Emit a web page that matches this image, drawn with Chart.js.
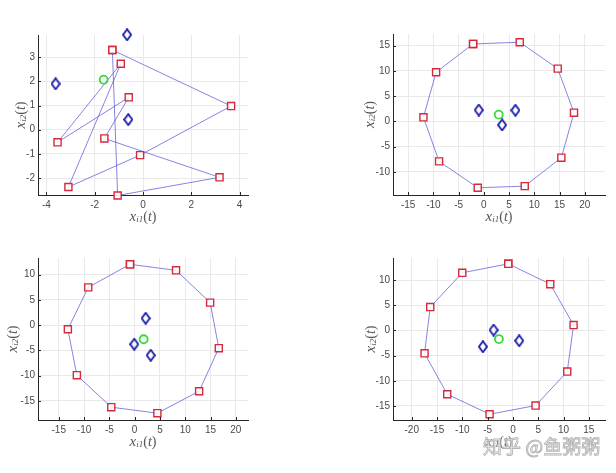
<!DOCTYPE html>
<html><head><meta charset="utf-8">
<script src="https://cdn.jsdelivr.net/npm/chart.js@4/dist/chart.umd.min.js"></script>
<style>
html,body{margin:0;padding:0;background:#fff;}
#wrap{position:relative;width:616px;height:473px;overflow:hidden;background:#fff;}
#wrap canvas{position:absolute;left:0;top:0;width:616px;height:473px;}
#wm{position:absolute;left:483px;top:434px;font-family:"Noto Sans CJK SC";font-size:19px;line-height:24px;color:rgba(255,255,255,0.6);-webkit-text-stroke:0.9px #b5b5b5;white-space:nowrap;}
</style></head><body>
<div id="wrap">
<canvas id="c1" width="616" height="473"></canvas>
<canvas id="c2" width="616" height="473"></canvas>
<canvas id="c3" width="616" height="473"></canvas>
<canvas id="c4" width="616" height="473"></canvas>
<div id="wm">知乎 @鱼粥粥</div>
</div>
<script>
// ---- data ----
// subplot 1 (initial state), agents listed in ring order
const agentX1 = [-1.27, 3.65, -0.12, -3.09, -0.92, -3.54, -0.59, -1.60, 3.17, -1.05];
const agentY1 = [3.30, 0.98, -1.05, -2.37, 2.73, -0.52, 1.34, -0.36, -1.97, -2.72];
const leaderX1 = [-0.66, -3.62, -0.61];
const leaderY1 = [3.93, 1.90, 0.42];
const centerX1 = [-1.63];
const centerY1 = [2.07];
const xTicks1 = [-4, -2, 0, 2, 4];
const yTicks1 = [-2, -1, 0, 1, 2, 3];

// subplot 2
const agentX2 = [-2.13, 7.11, 14.63, 17.86, 15.35, 8.10, -1.21, -8.87, -11.97, -9.46];
const agentY2 = [15.33, 15.67, 10.44, 1.71, -7.21, -12.84, -13.17, -7.94, 0.79, 9.72];
const leaderX2 = [-1.01, 6.25, 3.61];
const leaderY2 = [2.24, 2.18, -0.73];
const centerX2 = [2.95];
const centerY2 = [1.32];
const xTicks2 = [-15, -10, -5, 0, 5, 10, 15, 20];
const yTicks2 = [-10, -5, 0, 5, 10, 15];

// subplot 3
const agentX3 = [-0.92, 8.18, 14.92, 16.63, 12.74, 4.49, -4.62, -11.42, -13.20, -9.17];
const agentY3 = [12.05, 10.86, 4.46, -4.57, -13.10, -17.45, -16.26, -9.92, -0.82, 7.48];
const leaderX3 = [2.18, -0.07, 3.17];
const leaderY3 = [1.36, -3.79, -5.97];
const centerX3 = [1.78];
const centerY3 = [-2.80];
const xTicks3 = [-15, -10, -5, 0, 5, 10, 15, 20];
const yTicks3 = [-15, -10, -5, 0, 5, 10];

// subplot 4
const agentX4 = [-0.92, 7.38, 11.99, 10.74, 4.48, -4.61, -12.98, -17.46, -16.34, -10.01];
const agentY4 = [13.24, 9.20, 1.07, -8.18, -14.93, -16.65, -12.68, -4.55, 4.64, 11.46];
const leaderX4 = [-3.82, -5.93, 1.25];
const leaderY4 = [0.08, -3.23, -2.04];
const centerX4 = [-2.77];
const centerY4 = [-1.71];
const xTicks4 = [-20, -15, -10, -5, 0, 5, 10, 15];
const yTicks4 = [-15, -10, -5, 0, 5, 10];

// ---- styling / layout ----
const Y_AXIS_W = 30, X_AXIS_H = 20;

const diamond = document.createElement('canvas');
diamond.width = 10; diamond.height = 13;
(function(){
  const g = diamond.getContext('2d');
  g.strokeStyle = '#1c1ca8'; g.lineWidth = 1.8;
  g.beginPath(); g.moveTo(5, 1); g.lineTo(9, 6.5); g.lineTo(5, 12); g.lineTo(1, 6.5); g.closePath(); g.stroke();
})();

function drawMath(ctx, cx, cy, sub) {
  const parts = [
    {t: 'x', f: 'italic 15px "Liberation Serif"', dy: 0},
    {t: sub, f: 'italic 9px "Liberation Serif"', dy: 3},
    {t: '(', f: '14px "Liberation Serif"', dy: 0},
    {t: 't', f: 'italic 14px "Liberation Serif"', dy: 0},
    {t: ')', f: '14px "Liberation Serif"', dy: 0}
  ];
  let total = 0;
  parts.forEach(p => { ctx.font = p.f; p.w = ctx.measureText(p.t).width; total += p.w; });
  let x = cx - total / 2;
  ctx.fillStyle = '#555';
  ctx.textBaseline = 'middle'; ctx.textAlign = 'left';
  parts.forEach(p => { ctx.font = p.f; ctx.fillText(p.t, x, cy + p.dy); x += p.w; });
}

const matPlugin = {
  id: 'matlabAxes',
  afterDraw(chart, args, opts) {
    const ctx = chart.ctx, a = chart.chartArea;
    const xs = chart.scales.x, ys = chart.scales.y;
    ctx.save();
    ctx.strokeStyle = '#262626'; ctx.lineWidth = 1;
    ctx.beginPath();
    xs.ticks.forEach(t => { const p = Math.round(xs.getPixelForValue(t.value)) + 0.5; ctx.moveTo(p, a.bottom); ctx.lineTo(p, a.bottom - 3); });
    ys.ticks.forEach(t => { const p = Math.round(ys.getPixelForValue(t.value)) + 0.5; ctx.moveTo(a.left, p); ctx.lineTo(a.left + 3, p); });
    ctx.stroke();
    drawMath(ctx, (a.left + a.right) / 2, a.bottom + 22, 'i1');
    ctx.translate(a.left - opts.yOff, (a.top + a.bottom) / 2);
    ctx.rotate(-Math.PI / 2);
    drawMath(ctx, 0, 0, 'i2');
    ctx.restore();
  }
};

function axis(min, max, ticks, isX) {
  return {
    type: 'linear', min: min, max: max,
    afterBuildTicks: s => { s.ticks = ticks.map(v => ({value: v})); },
    afterFit: s => { if (isX) s.height = X_AXIS_H; else s.width = Y_AXIS_W; },
    grid: {color: '#e9e9e9', lineWidth: 1, drawTicks: false},
    border: {display: true, color: '#262626', width: 1},
    ticks: {font: {family: '"Liberation Sans"', size: 10}, color: '#4a4a4a', padding: isX ? 4 : 3, maxRotation: 0, autoSkip: false}
  };
}

function makeChart(id, ax, ay, lx, ly, cxs, cys, xt, yt, box) {
  const agents = ax.map((x, i) => ({x: x, y: ay[i]}));
  agents.push({x: ax[0], y: ay[0]});
  const leaders = lx.map((x, i) => ({x: x, y: ly[i]}));
  const centers = cxs.map((x, i) => ({x: x, y: cys[i]}));
  new Chart(document.getElementById(id), {
    type: 'scatter',
    data: {datasets: [
      {data: centers, pointStyle: 'circle', pointRadius: 4, pointBorderColor: '#33dd33', pointBackgroundColor: 'rgba(0,0,0,0)', pointBorderWidth: 1.8, clip: false},
      {data: leaders, pointStyle: diamond, pointRadius: 6, clip: false},
      {data: agents, showLine: true, borderColor: 'rgba(95,95,215,0.85)', borderWidth: 0.9,
       pointStyle: 'rect', pointRadius: 5, pointBorderColor: '#d42a3c', pointBackgroundColor: 'rgba(255,255,255,0.85)', pointBorderWidth: 1.4, clip: false}
    ]},
    options: {
      responsive: false, animation: false, devicePixelRatio: 1,
      layout: {padding: {left: box.L - Y_AXIS_W, right: 616 - box.R, top: box.T, bottom: 473 - box.B - X_AXIS_H}},
      plugins: {legend: {display: false}, tooltip: {enabled: false}, matlabAxes: {yOff: box.yOff}},
      scales: {x: axis(box.xmin, box.xmax, xt, true), y: axis(box.ymin, box.ymax, yt, false)}
    },
    plugins: [matPlugin]
  });
}

makeChart('c1', agentX1, agentY1, leaderX1, leaderY1, centerX1, centerY1, xTicks1, yTicks1,
  {L: 38, R: 248, T: 35, B: 195, xmin: -4.35, xmax: 4.35, ymin: -2.7, ymax: 3.92, yOff: 17});
makeChart('c2', agentX2, agentY2, leaderX2, leaderY2, centerX2, centerY2, xTicks2, yTicks2,
  {L: 393, R: 605, T: 34, B: 195, xmin: -18, xmax: 24, ymin: -14.6, ymax: 17.3, yOff: 23});
makeChart('c3', agentX3, agentY3, leaderX3, leaderY3, centerX3, centerY3, xTicks3, yTicks3,
  {L: 38, R: 248, T: 258, B: 420, xmin: -19.1, xmax: 22.4, ymin: -18.8, ymax: 13.3, yOff: 25});
makeChart('c4', agentX4, agentY4, leaderX4, leaderY4, centerX4, centerY4, xTicks4, yTicks4,
  {L: 393, R: 605, T: 258, B: 420, xmin: -23.7, xmax: 18.2, ymin: -17.8, ymax: 14.4, yOff: 22});
</script>
</body></html>
